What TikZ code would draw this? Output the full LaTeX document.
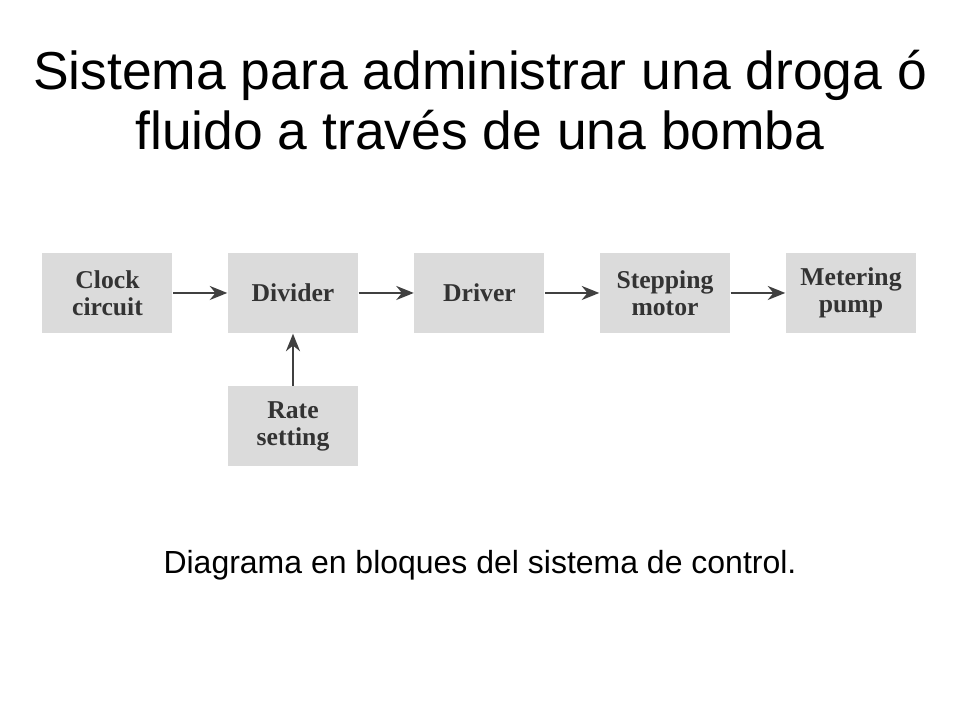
\documentclass[tikz,border=0pt]{standalone}
\usepackage{fontspec}
\setmainfont{Liberation Sans}
\newfontfamily\bookfont{Liberation Serif}
\usetikzlibrary{arrows.meta}
\tikzstyle{block_box} = [draw = none, fill = black!14, minimum width = 1.3cm, minimum height = 0.8cm, align = center, font = \bookfont\bfseries\fontsize{7.3}{7.8}\selectfont, text = black!80]
\tikzstyle{block_arrow} = [-{Stealth[length = 5pt, width = 4pt]}, draw = black!75, line width = 0.6pt]

\begin{document}
\begin{tikzpicture}
        \useasboundingbox (0, 0) rectangle (9.6, 7.2);
        \node [align = center, font = \fontsize{15.2}{17}\selectfont] (title) at (4.8, 6.2) {Sistema para administrar una droga ó\\fluido a través de una bomba};
        \node [style = {block_box}] (clock) at (1.075, 4.27) {Clock\\circuit};
        \node [style = {block_box}] (divider) at (2.93, 4.27) {Divider};
        \node [style = {block_box}] (driver) at (4.795, 4.27) {Driver};
        \node [style = {block_box}] (stepping) at (6.65, 4.27) {Stepping\\motor};
        \node [style = {block_box}] (metering) at (8.51, 4.27) {Metering\\pump};
        \node [style = {block_box}] (rate) at (2.93, 2.935) {Rate\\setting};
        \draw [style = {block_arrow}] (clock) -- (divider);
        \draw [style = {block_arrow}] (divider) -- (driver);
        \draw [style = {block_arrow}] (driver) -- (stepping);
        \draw [style = {block_arrow}] (stepping) -- (metering);
        \draw [style = {block_arrow}] (rate) -- (divider);
        \node [font = \fontsize{9.1}{10}\selectfont] (caption) at (4.8, 1.55) {Diagrama en bloques del sistema de control.};
    \end{tikzpicture}
\end{document}
